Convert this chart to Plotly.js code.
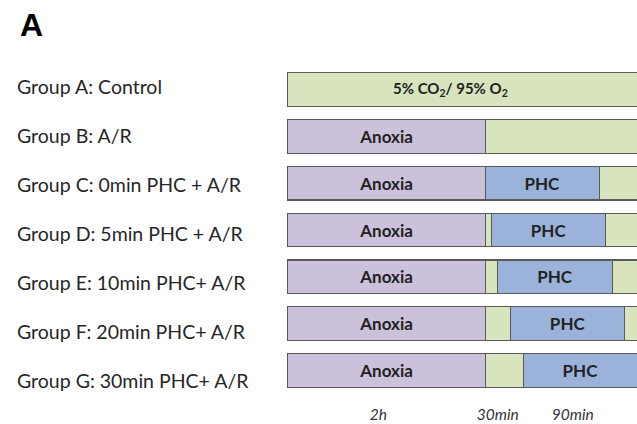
<!DOCTYPE html>
<html>
<head>
<meta charset="utf-8">
<script src="https://cdn.plot.ly/plotly-3.0.1.min.js"></script>
<style>html,body{margin:0;padding:0;background:#fff;}#chart{width:637px;height:424px;}</style>
</head>
<body>
<div id="chart"></div>
<script>
// Groups (rows, top to bottom)
const groups = ['Group A: Control','Group B: A/R','Group C: 0min PHC + A/R','Group D: 5min PHC + A/R',
                'Group E: 10min PHC+ A/R','Group F: 20min PHC+ A/R','Group G: 30min PHC+ A/R'];
// Segment lengths in the schematic's drawing units
const anoxia   = [null, 156, 156, 156, 156, 156, 156];   // 2h anoxia (drawn schematically)
const delay    = [null, null, null, 5, 10, 20, 30];      // reoxygenation before PHC (min)
const phc      = [null, null, 90, 90, 90, 90, 90];       // PHC duration (min)
const recovery = [400, 400, 400, 400, 400, 400, 400];    // remaining reoxygenation (runs off the edge)
// Time labels under the bars
const timeLabels = ['2h', '30min', '90min'];
const timePos    = [72, 166, 225];
const controlText = '5% CO<sub>2</sub>/ 95% O<sub>2</sub>';
const controlTextPos = 129;

const GREEN = '#D7E4BD', PURPLE = '#CCC1DA', BLUE = '#9BB3DA', EDGE = '#5a5a5a';
const line = {color: EDGE, width: 1.2};
const barText = {family: 'Lato, Carlito, sans-serif', size: 17, color: '#222', weight: 'bold'};
const W = 0.72;

const traces = [
  {type:'bar', orientation:'h', y: groups, x: anoxia, width: W, marker:{color: PURPLE, line},
   text: anoxia.map(v => v ? 'Anoxia' : ''), textposition:'inside', insidetextanchor:'middle',
   textfont: barText, hoverinfo:'skip'},
  {type:'bar', orientation:'h', y: groups, x: delay, width: W, marker:{color: GREEN, line},
   hoverinfo:'skip'},
  {type:'bar', orientation:'h', y: groups, x: phc, width: W, marker:{color: BLUE, line},
   text: phc.map(v => v ? 'PHC' : ''), textposition:'inside', insidetextanchor:'middle',
   textfont: barText, hoverinfo:'skip'},
  {type:'bar', orientation:'h', y: groups, x: recovery, width: W, marker:{color: GREEN, line},
   hoverinfo:'skip'}
];

const T = 66, B = 30, H = 424, PH = H - T - B;
const annotations = groups.map((g, i) => ({
  text: g, xref:'paper', yref:'paper', x: (15 - 287) / 350, xanchor:'left',
  y: 1 - ((86 + 49 * i) - T) / PH, yanchor:'middle', showarrow:false,
  font:{family:'Lato, Carlito, sans-serif', size:19.5, color:'#262626'}
}));
annotations.push({text: controlText, x: controlTextPos, y: groups[0], xref:'x', yref:'y',
  showarrow:false, font:{family:'Lato, Carlito, sans-serif', size:15, color:'#222', weight:'bold'}});

const layout = {
  width: 637, height: 424,
  margin: {l: 287, r: 0, t: T, b: B, pad: 0},
  paper_bgcolor: '#fff', plot_bgcolor: '#fff',
  barmode: 'stack', showlegend: false,
  title: {text: '<b>A</b>', font: {family: 'Liberation Sans, Arial, sans-serif', size: 32, color: '#000'},
          x: 20/637, xanchor: 'left', xref: 'container', y: 1 - 25/424, yanchor: 'middle', yref: 'container'},
  xaxis: {range: [0, 350/1.27], showgrid: false, zeroline: false, showline: false, ticks: '',
          tickvals: timePos, ticktext: timeLabels.map(t => '<i>' + t + '</i>'),
          tickfont: {family: 'Lato, Carlito, sans-serif', size: 15.5, color: '#333'},
          ticklabelstandoff: 9, fixedrange: true},
  yaxis: {type: 'category', categoryarray: groups, range: [6.5, -0.5], showgrid: false,
          zeroline: false, showline: false, showticklabels: false, ticks: '', fixedrange: true},
  annotations
};

Plotly.newPlot('chart', traces, layout, {staticPlot: true, displayModeBar: false});
</script>
</body>
</html>
